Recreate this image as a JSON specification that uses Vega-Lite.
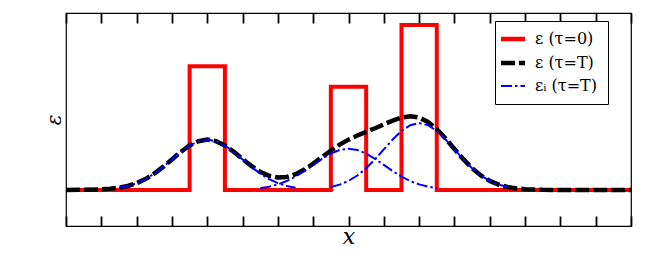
{
  "$schema": "https://vega.github.io/schema/vega-lite/v6.json",
  "width": 565,
  "height": 213,
  "autosize": {"type": "none"},
  "padding": {"left": 66, "top": 13, "right": 33, "bottom": 40},
  "background": "white",
  "config": {
    "view": {"stroke": "#000000", "strokeWidth": 1.2},
    "axisY": {"ticks": false, "labels": false, "domain": false, "grid": false, "titleFont": "DejaVu Serif", "titleFontStyle": "italic", "titleFontWeight": "normal", "titleFontSize": 20, "titleColor": "black", "titleBaseline": "alphabetic", "titlePadding": 6}
  },
  "data": {"values": [
    {"g": "r", "s": "ε (τ=0)", "i": 0, "x": 0, "y": 0},
    {"g": "r", "s": "ε (τ=0)", "i": 1, "x": 3.5, "y": 0},
    {"g": "r", "s": "ε (τ=0)", "i": 2, "x": 3.5, "y": 3},
    {"g": "r", "s": "ε (τ=0)", "i": 3, "x": 4.5, "y": 3},
    {"g": "r", "s": "ε (τ=0)", "i": 4, "x": 4.5, "y": 0},
    {"g": "r", "s": "ε (τ=0)", "i": 5, "x": 7.5, "y": 0},
    {"g": "r", "s": "ε (τ=0)", "i": 6, "x": 7.5, "y": 2.5},
    {"g": "r", "s": "ε (τ=0)", "i": 7, "x": 8.5, "y": 2.5},
    {"g": "r", "s": "ε (τ=0)", "i": 8, "x": 8.5, "y": 0},
    {"g": "r", "s": "ε (τ=0)", "i": 9, "x": 9.5, "y": 0},
    {"g": "r", "s": "ε (τ=0)", "i": 10, "x": 9.5, "y": 4},
    {"g": "r", "s": "ε (τ=0)", "i": 11, "x": 10.5, "y": 4},
    {"g": "r", "s": "ε (τ=0)", "i": 12, "x": 10.5, "y": 0},
    {"g": "r", "s": "ε (τ=0)", "i": 13, "x": 16, "y": 0},

    {"g": "k", "s": "ε (τ=T)", "x": 0, "y": 0},
    {"g": "k", "s": "ε (τ=T)", "x": 0.5, "y": 0.003},
    {"g": "k", "s": "ε (τ=T)", "x": 1, "y": 0.014},
    {"g": "k", "s": "ε (τ=T)", "x": 1.25, "y": 0.028},
    {"g": "k", "s": "ε (τ=T)", "x": 1.5, "y": 0.054},
    {"g": "k", "s": "ε (τ=T)", "x": 1.75, "y": 0.097},
    {"g": "k", "s": "ε (τ=T)", "x": 2, "y": 0.165},
    {"g": "k", "s": "ε (τ=T)", "x": 2.25, "y": 0.264},
    {"g": "k", "s": "ε (τ=T)", "x": 2.5, "y": 0.396},
    {"g": "k", "s": "ε (τ=T)", "x": 2.75, "y": 0.559},
    {"g": "k", "s": "ε (τ=T)", "x": 3, "y": 0.740},
    {"g": "k", "s": "ε (τ=T)", "x": 3.25, "y": 0.921},
    {"g": "k", "s": "ε (τ=T)", "x": 3.5, "y": 1.077},
    {"g": "k", "s": "ε (τ=T)", "x": 3.75, "y": 1.182},
    {"g": "k", "s": "ε (τ=T)", "x": 4, "y": 1.220},
    {"g": "k", "s": "ε (τ=T)", "x": 4.25, "y": 1.183},
    {"g": "k", "s": "ε (τ=T)", "x": 4.5, "y": 1.079},
    {"g": "k", "s": "ε (τ=T)", "x": 4.75, "y": 0.926},
    {"g": "k", "s": "ε (τ=T)", "x": 5, "y": 0.751},
    {"g": "k", "s": "ε (τ=T)", "x": 5.25, "y": 0.581},
    {"g": "k", "s": "ε (τ=T)", "x": 5.5, "y": 0.440},
    {"g": "k", "s": "ε (τ=T)", "x": 5.75, "y": 0.344},
    {"g": "k", "s": "ε (τ=T)", "x": 6, "y": 0.301},
    {"g": "k", "s": "ε (τ=T)", "x": 6.25, "y": 0.315},
    {"g": "k", "s": "ε (τ=T)", "x": 6.5, "y": 0.382},
    {"g": "k", "s": "ε (τ=T)", "x": 6.75, "y": 0.494},
    {"g": "k", "s": "ε (τ=T)", "x": 7, "y": 0.638},
    {"g": "k", "s": "ε (τ=T)", "x": 7.25, "y": 0.798},
    {"g": "k", "s": "ε (τ=T)", "x": 7.5, "y": 0.956},
    {"g": "k", "s": "ε (τ=T)", "x": 7.75, "y": 1.099},
    {"g": "k", "s": "ε (τ=T)", "x": 8, "y": 1.220},
    {"g": "k", "s": "ε (τ=T)", "x": 8.25, "y": 1.320},
    {"g": "k", "s": "ε (τ=T)", "x": 8.5, "y": 1.409},
    {"g": "k", "s": "ε (τ=T)", "x": 8.75, "y": 1.496},
    {"g": "k", "s": "ε (τ=T)", "x": 9, "y": 1.589},
    {"g": "k", "s": "ε (τ=T)", "x": 9.25, "y": 1.681},
    {"g": "k", "s": "ε (τ=T)", "x": 9.5, "y": 1.754},
    {"g": "k", "s": "ε (τ=T)", "x": 9.75, "y": 1.786},
    {"g": "k", "s": "ε (τ=T)", "x": 10, "y": 1.755},
    {"g": "k", "s": "ε (τ=T)", "x": 10.25, "y": 1.650},
    {"g": "k", "s": "ε (τ=T)", "x": 10.5, "y": 1.474},
    {"g": "k", "s": "ε (τ=T)", "x": 10.75, "y": 1.246},
    {"g": "k", "s": "ε (τ=T)", "x": 11, "y": 0.994},
    {"g": "k", "s": "ε (τ=T)", "x": 11.25, "y": 0.747},
    {"g": "k", "s": "ε (τ=T)", "x": 11.5, "y": 0.528},
    {"g": "k", "s": "ε (τ=T)", "x": 11.75, "y": 0.351},
    {"g": "k", "s": "ε (τ=T)", "x": 12, "y": 0.220},
    {"g": "k", "s": "ε (τ=T)", "x": 12.25, "y": 0.129},
    {"g": "k", "s": "ε (τ=T)", "x": 12.5, "y": 0.071},
    {"g": "k", "s": "ε (τ=T)", "x": 12.75, "y": 0.037},
    {"g": "k", "s": "ε (τ=T)", "x": 13, "y": 0.018},
    {"g": "k", "s": "ε (τ=T)", "x": 13.5, "y": 0.004},
    {"g": "k", "s": "ε (τ=T)", "x": 14, "y": 0},
    {"g": "k", "s": "ε (τ=T)", "x": 16, "y": 0},

    {"g": "b1", "s": "εᵢ (τ=T)", "x": 1.5, "y": 0.054},
    {"g": "b1", "s": "εᵢ (τ=T)", "x": 1.75, "y": 0.097},
    {"g": "b1", "s": "εᵢ (τ=T)", "x": 2, "y": 0.165},
    {"g": "b1", "s": "εᵢ (τ=T)", "x": 2.25, "y": 0.264},
    {"g": "b1", "s": "εᵢ (τ=T)", "x": 2.5, "y": 0.396},
    {"g": "b1", "s": "εᵢ (τ=T)", "x": 2.75, "y": 0.559},
    {"g": "b1", "s": "εᵢ (τ=T)", "x": 3, "y": 0.740},
    {"g": "b1", "s": "εᵢ (τ=T)", "x": 3.25, "y": 0.921},
    {"g": "b1", "s": "εᵢ (τ=T)", "x": 3.5, "y": 1.077},
    {"g": "b1", "s": "εᵢ (τ=T)", "x": 3.75, "y": 1.182},
    {"g": "b1", "s": "εᵢ (τ=T)", "x": 4, "y": 1.220},
    {"g": "b1", "s": "εᵢ (τ=T)", "x": 4.25, "y": 1.182},
    {"g": "b1", "s": "εᵢ (τ=T)", "x": 4.5, "y": 1.077},
    {"g": "b1", "s": "εᵢ (τ=T)", "x": 4.75, "y": 0.921},
    {"g": "b1", "s": "εᵢ (τ=T)", "x": 5, "y": 0.740},
    {"g": "b1", "s": "εᵢ (τ=T)", "x": 5.25, "y": 0.559},
    {"g": "b1", "s": "εᵢ (τ=T)", "x": 5.5, "y": 0.396},
    {"g": "b1", "s": "εᵢ (τ=T)", "x": 5.75, "y": 0.264},
    {"g": "b1", "s": "εᵢ (τ=T)", "x": 6, "y": 0.165},
    {"g": "b1", "s": "εᵢ (τ=T)", "x": 6.25, "y": 0.097},
    {"g": "b1", "s": "εᵢ (τ=T)", "x": 6.5, "y": 0.054},

    {"g": "b2", "s": "εᵢ (τ=T)", "x": 5.5, "y": 0.044},
    {"g": "b2", "s": "εᵢ (τ=T)", "x": 5.75, "y": 0.080},
    {"g": "b2", "s": "εᵢ (τ=T)", "x": 6, "y": 0.135},
    {"g": "b2", "s": "εᵢ (τ=T)", "x": 6.25, "y": 0.216},
    {"g": "b2", "s": "εᵢ (τ=T)", "x": 6.5, "y": 0.325},
    {"g": "b2", "s": "εᵢ (τ=T)", "x": 6.75, "y": 0.458},
    {"g": "b2", "s": "εᵢ (τ=T)", "x": 7, "y": 0.607},
    {"g": "b2", "s": "εᵢ (τ=T)", "x": 7.25, "y": 0.755},
    {"g": "b2", "s": "εᵢ (τ=T)", "x": 7.5, "y": 0.883},
    {"g": "b2", "s": "εᵢ (τ=T)", "x": 7.75, "y": 0.969},
    {"g": "b2", "s": "εᵢ (τ=T)", "x": 8, "y": 1.000},
    {"g": "b2", "s": "εᵢ (τ=T)", "x": 8.25, "y": 0.969},
    {"g": "b2", "s": "εᵢ (τ=T)", "x": 8.5, "y": 0.883},
    {"g": "b2", "s": "εᵢ (τ=T)", "x": 8.75, "y": 0.755},
    {"g": "b2", "s": "εᵢ (τ=T)", "x": 9, "y": 0.607},
    {"g": "b2", "s": "εᵢ (τ=T)", "x": 9.25, "y": 0.458},
    {"g": "b2", "s": "εᵢ (τ=T)", "x": 9.5, "y": 0.325},
    {"g": "b2", "s": "εᵢ (τ=T)", "x": 9.75, "y": 0.216},
    {"g": "b2", "s": "εᵢ (τ=T)", "x": 10, "y": 0.135},
    {"g": "b2", "s": "εᵢ (τ=T)", "x": 10.25, "y": 0.080},
    {"g": "b2", "s": "εᵢ (τ=T)", "x": 10.5, "y": 0.044},

    {"g": "b3", "s": "εᵢ (τ=T)", "x": 7.5, "y": 0.071},
    {"g": "b3", "s": "εᵢ (τ=T)", "x": 7.75, "y": 0.129},
    {"g": "b3", "s": "εᵢ (τ=T)", "x": 8, "y": 0.219},
    {"g": "b3", "s": "εᵢ (τ=T)", "x": 8.25, "y": 0.350},
    {"g": "b3", "s": "εᵢ (τ=T)", "x": 8.5, "y": 0.526},
    {"g": "b3", "s": "εᵢ (τ=T)", "x": 8.75, "y": 0.742},
    {"g": "b3", "s": "εᵢ (τ=T)", "x": 9, "y": 0.983},
    {"g": "b3", "s": "εᵢ (τ=T)", "x": 9.25, "y": 1.223},
    {"g": "b3", "s": "εᵢ (τ=T)", "x": 9.5, "y": 1.430},
    {"g": "b3", "s": "εᵢ (τ=T)", "x": 9.75, "y": 1.570},
    {"g": "b3", "s": "εᵢ (τ=T)", "x": 10, "y": 1.620},
    {"g": "b3", "s": "εᵢ (τ=T)", "x": 10.25, "y": 1.570},
    {"g": "b3", "s": "εᵢ (τ=T)", "x": 10.5, "y": 1.430},
    {"g": "b3", "s": "εᵢ (τ=T)", "x": 10.75, "y": 1.223},
    {"g": "b3", "s": "εᵢ (τ=T)", "x": 11, "y": 0.983},
    {"g": "b3", "s": "εᵢ (τ=T)", "x": 11.25, "y": 0.742},
    {"g": "b3", "s": "εᵢ (τ=T)", "x": 11.5, "y": 0.526},
    {"g": "b3", "s": "εᵢ (τ=T)", "x": 11.75, "y": 0.350},
    {"g": "b3", "s": "εᵢ (τ=T)", "x": 12, "y": 0.219},
    {"g": "b3", "s": "εᵢ (τ=T)", "x": 12.25, "y": 0.129},
    {"g": "b3", "s": "εᵢ (τ=T)", "x": 12.5, "y": 0.071}
  ]},
  "resolve": {"axis": {"x": "independent"}},
  "layer": [
    {
      "transform": [{"filter": "datum.g == 'r'"}],
      "mark": {"type": "line", "strokeWidth": 4, "interpolate": "linear", "strokeJoin": "miter", "strokeCap": "butt"},
      "encoding": {
        "x": {"field": "x", "type": "quantitative", "scale": {"domain": [0, 16], "nice": false, "zero": false},
              "axis": {"orient": "bottom", "title": "x", "values": [0,1,2,3,4,5,6,7,8,9,10,11,12,13,14,15,16], "labels": false, "domain": false, "grid": false, "tickSize": -10, "tickWidth": 1.8, "tickColor": "black", "titleFont": "DejaVu Serif", "titleFontStyle": "italic", "titleFontWeight": "normal", "titleFontSize": 22, "titleColor": "black", "titleBaseline": "alphabetic", "titlePadding": 17}},
        "y": {"field": "y", "type": "quantitative", "title": "ε", "scale": {"domain": [-0.874, 4.29], "nice": false, "zero": false}},
        "order": {"field": "i", "type": "quantitative"},
        "color": {"field": "s", "type": "nominal", "scale": {"domain": ["ε (τ=0)", "ε (τ=T)", "εᵢ (τ=T)"], "range": ["#ff0000", "#000000", "#0000ff"]},
                  "legend": {"title": null, "orient": "none", "legendX": 429, "legendY": 8, "fillColor": "white", "strokeColor": "black", "padding": 10, "symbolType": "stroke", "symbolSize": 576, "symbolStrokeWidth": 4.5, "labelFont": "DejaVu Serif", "labelFontSize": 16, "labelColor": "black", "labelOffset": 14, "rowPadding": 6,
                             "encode": {"symbols": {"update": {"strokeWidth": {"signal": "datum.value == 'εᵢ (τ=T)' ? 2 : 4.5"}}}}}},
        "strokeDash": {"field": "s", "type": "nominal", "scale": {"domain": ["ε (τ=0)", "ε (τ=T)", "εᵢ (τ=T)"], "range": [[1, 0], [14, 4], [11, 3, 2.5, 3]]},
                  "legend": {"title": null, "orient": "none", "legendX": 429, "legendY": 8, "fillColor": "white", "strokeColor": "black", "padding": 10, "symbolType": "stroke", "symbolSize": 576, "symbolStrokeWidth": 4.5, "labelFont": "DejaVu Serif", "labelFontSize": 16, "labelColor": "black", "labelOffset": 14, "rowPadding": 6,
                             "encode": {"symbols": {"update": {"strokeWidth": {"signal": "datum.value == 'εᵢ (τ=T)' ? 2 : 4.5"}}}}}}
      }
    },
    {
      "transform": [{"filter": "datum.g == 'k'"}],
      "mark": {"type": "line", "strokeWidth": 4.5, "strokeCap": "butt"},
      "encoding": {
        "x": {"field": "x", "type": "quantitative", "axis": null},
        "y": {"field": "y", "type": "quantitative", "title": "ε"},
        "color": {"field": "s", "type": "nominal"},
        "strokeDash": {"field": "s", "type": "nominal"}
      }
    },
    {
      "transform": [{"filter": "datum.g != 'r' && datum.g != 'k'"}],
      "mark": {"type": "line", "strokeWidth": 2, "strokeCap": "butt"},
      "encoding": {
        "x": {"field": "x", "type": "quantitative",
              "axis": {"orient": "top", "title": null, "values": [0,1,2,3,4,5,6,7,8,9,10,11,12,13,14,15,16], "labels": false, "domain": false, "grid": false, "tickSize": -10, "tickWidth": 1.8, "tickColor": "black"}},
        "y": {"field": "y", "type": "quantitative", "title": "ε"},
        "detail": {"field": "g", "type": "nominal"},
        "color": {"field": "s", "type": "nominal"},
        "strokeDash": {"field": "s", "type": "nominal"}
      }
    }
  ]
}
